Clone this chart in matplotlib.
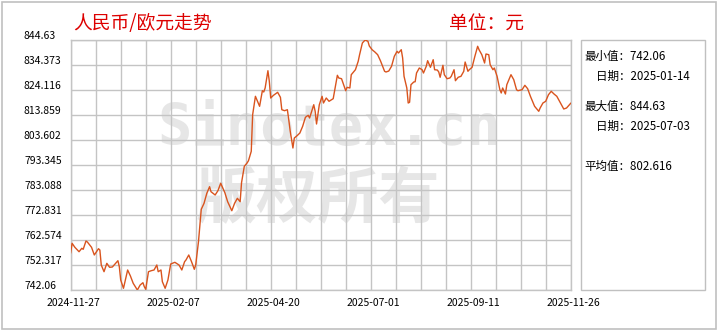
import matplotlib
matplotlib.use('Agg')
import matplotlib.pyplot as plt
import matplotlib.transforms as mtransforms
from matplotlib.patches import Rectangle

plt.rcParams['font.family'] = ['Noto Sans CJK SC', 'DejaVu Sans']

# x-Position (Tage ab Start, Achse 0..360) und Kurswerte
days = [0, 1, 3, 6, 8, 9, 11, 12, 15, 17,
        20, 21, 22, 24, 26, 28, 30, 34, 35, 36,
        38, 41, 43, 45, 48, 50, 52, 53, 54, 56,
        58, 60, 62, 63, 65, 66, 68, 70, 72, 75,
        78, 80, 82, 83, 85, 87, 89, 90, 92, 94,
        96, 98, 100, 101, 104, 106, 108, 111, 113, 116,
        118, 120, 122, 123, 125, 127, 128, 130, 131, 133,
        136, 138, 139, 140, 142, 143, 144, 146, 149, 151,
        152, 154, 156, 157, 158, 160, 161, 163, 165, 167,
        169, 171, 172, 175, 176, 177, 179, 181, 182, 184,
        186, 189, 192, 193, 195, 198, 199, 201, 202, 205,
        207, 208, 210, 212, 214, 215, 217, 219, 221, 223,
        226, 227, 229, 231, 233, 235, 236, 238, 239, 240,
        242, 243, 244, 245, 247, 248, 249, 251, 253, 254,
        256, 257, 259, 261, 262, 264, 265, 266, 268, 269,
        271, 273, 274, 276, 277, 279, 281, 283, 284, 286,
        287, 289, 291, 293, 294, 296, 298, 299, 301, 302,
        304, 305, 307, 309, 310, 311, 313, 314, 317, 319,
        321, 322, 325, 327, 329, 331, 333, 334, 337, 338,
        340, 342, 344, 346, 348, 350, 352, 355, 357, 360]

values = [757.36, 761.22, 759.58, 757.77, 759.17, 758.76, 762.16, 761.75, 759.58, 756.42,
          759.00, 758.47, 752.32, 749.57, 753.01, 751.37, 751.50, 754.08, 751.62, 746.16,
          742.76, 750.27, 747.80, 744.81, 742.06, 744.11, 745.05, 743.41, 742.35, 749.57,
          749.98, 750.27, 752.32, 749.57, 750.27, 745.46, 742.76, 746.16, 752.73, 753.42,
          752.32, 750.27, 753.67, 754.37, 756.42, 753.67, 750.55, 752.32, 761.88, 775.17,
          777.63, 781.73, 784.44, 782.39, 781.04, 782.80, 785.84, 781.98, 778.29, 774.59,
          777.63, 779.68, 778.29, 786.08, 792.81, 794.17, 795.11, 798.97, 813.98, 821.53,
          817.43, 823.83, 823.30, 824.94, 832.03, 827.69, 820.83, 821.94, 823.17, 821.12,
          816.03, 815.62, 816.03, 811.93, 807.42, 800.32, 804.42, 805.37, 806.47, 809.22,
          812.92, 813.74, 812.63, 818.08, 815.38, 810.17, 818.08, 821.53, 818.78, 820.83,
          819.48, 820.55, 830.15, 829.04, 828.75, 823.83, 825.22, 824.94, 830.39, 832.44,
          835.89, 838.60, 843.40, 844.63, 844.10, 842.17, 840.65, 839.71, 838.60, 836.14,
          831.79, 831.50, 831.90, 833.84, 837.94, 839.99, 839.30, 840.65, 837.24, 829.74,
          824.94, 818.78, 819.07, 826.29, 827.40, 827.50, 831.09, 833.14, 832.44, 831.09,
          833.84, 836.14, 833.43, 836.55, 832.44, 832.30, 831.50, 829.33, 834.25, 830.39,
          828.75, 829.04, 829.74, 832.44, 827.93, 829.33, 829.74, 831.79, 835.60, 831.79,
          832.44, 833.43, 837.94, 842.05, 840.65, 838.60, 835.19, 838.89, 838.60, 834.50,
          832.44, 833.14, 829.74, 824.24, 822.89, 824.94, 822.47, 826.29, 830.39, 828.34,
          824.24, 823.83, 824.24, 826.04, 824.65, 821.53, 818.78, 817.43, 815.38, 816.73,
          818.78, 819.48, 822.19, 823.58, 822.47, 821.53, 819.48, 816.32, 816.73, 818.66]

x_ticks = [0, 72, 144, 216, 288, 360]
x_labels = ['2024-11-27', '2025-02-07', '2025-04-20', '2025-07-01', '2025-09-11', '2025-11-26']
y_ticks = [742.06, 752.317, 762.574, 772.831, 783.088, 793.345,
           803.602, 813.859, 824.116, 834.373, 844.63]
y_labels = ['742.06', '752.317', '762.574', '772.831', '783.088', '793.345',
            '803.602', '813.859', '824.116', '834.373', '844.63']

title = '人民币/欧元走势'
unit = '单位：元'
min_val, min_date = '742.06', '2025-01-14'
max_val, max_date = '844.63', '2025-07-03'
avg_val = '802.616'

fig = plt.figure(figsize=(7.2, 3.3), dpi=100)
W, H = 720, 330

# Rahmen um die ganze Grafik
fig.patches.append(Rectangle((1.5 / W, 1.5 / H), 714 / W, 327 / H, transform=fig.transFigure,
                             fill=False, edgecolor='#c0c0c0', linewidth=1.2))

ax = fig.add_axes([70.7 / W, 40 / H, 500 / W, 250 / H])
ax.set_xlim(0, 360)
ax.set_ylim(742.06, 844.63)

# Raster
for yt in y_ticks:
    ax.axhline(yt, color='#c4c4c4', linewidth=1, zorder=1)
for k in range(21):
    ax.axvline(k * 18, color='#c4c4c4', linewidth=1, zorder=1)
for s in ax.spines.values():
    s.set_color('#c4c4c4')
    s.set_linewidth(1)

# Wasserzeichen
ax.text(0.517, 0.644, 'Sinotex.cn', transform=ax.transAxes, ha='center', va='center',
        fontsize=41, fontweight='bold', color='#dcdcdc', alpha=0.7, zorder=0,
        family=['DejaVu Sans Mono'])
ax.text(0.495, 0.36, '版权所有', transform=ax.transAxes, ha='center', va='center',
        fontsize=44, fontweight='bold', color='#dcdcdc', alpha=0.7, zorder=0)

ax.plot(days, values, color='#d9541e', linewidth=1.0, zorder=3)

ax.set_xticks(x_ticks)
ax.set_xticklabels(x_labels, fontsize=7.5)
ax.set_yticks(y_ticks)
ax.set_yticklabels([])
ax.tick_params(length=0, pad=6, colors='#000000')
offx = mtransforms.ScaledTranslation(3 / 100, 0, fig.dpi_scale_trans)
for lab in ax.get_xticklabels():
    lab.set_transform(lab.get_transform() + offx)

# y-Beschriftung linksbuendig wie im Original
ylab_tr = mtransforms.blended_transform_factory(fig.transFigure, ax.transData)
off = mtransforms.ScaledTranslation(0, 4 / 100, fig.dpi_scale_trans)
for yt, yl in zip(y_ticks, y_labels):
    ax.text(24 / W, yt, yl, transform=ylab_tr + off, ha='left', va='center',
            fontsize=7.5, clip_on=False)

fig.text(73 / W, 1 - 24 / H, title, color='#dd0000', fontsize=13.5, va='center', ha='left')
fig.text(449 / W, 1 - 24 / H, unit, color='#dd0000', fontsize=13.5, va='center', ha='left')

# Statistik-Kasten rechts
fig.patches.append(Rectangle((581 / W, 40 / H), 124 / W, 250 / H, transform=fig.transFigure,
                             fill=False, edgecolor='#c0c0c0', linewidth=1))
fs = 8.3
fig.text(584 / W, 1 - 56 / H, '最小值：' + min_val, fontsize=fs, va='center')
fig.text(596 / W, 1 - 76 / H, '日期：' + min_date, fontsize=fs, va='center')
fig.text(584 / W, 1 - 106 / H, '最大值：' + max_val, fontsize=fs, va='center')
fig.text(596 / W, 1 - 126 / H, '日期：' + max_date, fontsize=fs, va='center')
fig.text(584 / W, 1 - 166 / H, '平均值：' + avg_val, fontsize=fs, va='center')

fig.savefig('out.png', dpi=100, facecolor='white')
